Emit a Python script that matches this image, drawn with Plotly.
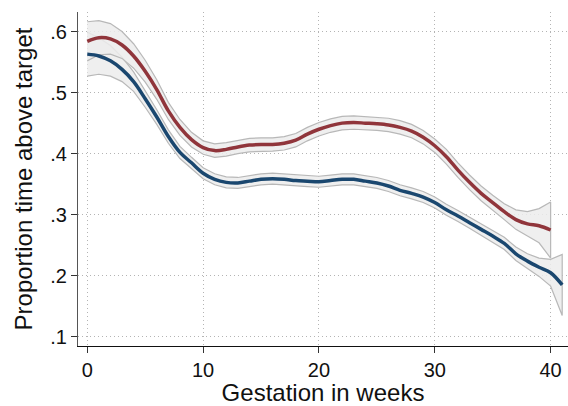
import plotly.graph_objects as go

weeks_red = list(range(0, 41))
red = [0.584, 0.590, 0.588, 0.578, 0.560, 0.535, 0.505, 0.470, 0.443, 0.423,
       0.410, 0.405, 0.407, 0.411, 0.414, 0.415, 0.415, 0.417, 0.422, 0.432,
       0.440, 0.446, 0.450, 0.451, 0.450, 0.449, 0.447, 0.443, 0.437, 0.427,
       0.413, 0.395, 0.373, 0.353, 0.335, 0.320, 0.305, 0.292, 0.285, 0.282,
       0.275]
red_hw = [0.032, 0.028, 0.025, 0.022, 0.020, 0.018, 0.016, 0.014, 0.013, 0.012,
          0.011, 0.011, 0.011, 0.011, 0.011, 0.011, 0.011, 0.011, 0.011, 0.011,
          0.011, 0.011, 0.011, 0.011, 0.011, 0.011, 0.011, 0.011, 0.011, 0.011,
          0.011, 0.012, 0.012, 0.012, 0.012, 0.012, 0.013, 0.016, 0.020, 0.028,
          0.046]

weeks_blue = list(range(0, 42))
blue = [0.563, 0.560, 0.552, 0.538, 0.518, 0.490, 0.460, 0.428, 0.402, 0.385,
        0.368, 0.358, 0.353, 0.352, 0.355, 0.358, 0.359, 0.358, 0.356, 0.355,
        0.354, 0.356, 0.358, 0.358, 0.355, 0.352, 0.347, 0.340, 0.335, 0.329,
        0.320, 0.308, 0.298, 0.287, 0.276, 0.265, 0.253, 0.236, 0.224, 0.214,
        0.205, 0.185]
blue_hw = [0.036, 0.030, 0.025, 0.020, 0.016, 0.014, 0.012, 0.011, 0.010, 0.009,
           0.009, 0.009, 0.009, 0.009, 0.009, 0.009, 0.009, 0.009, 0.009, 0.009,
           0.009, 0.009, 0.009, 0.009, 0.009, 0.009, 0.009, 0.009, 0.009, 0.009,
           0.009, 0.009, 0.009, 0.009, 0.009, 0.010, 0.010, 0.011, 0.012, 0.015,
           0.022, 0.050]

y_ticks = [0.1, 0.2, 0.3, 0.4, 0.5, 0.6]
y_labels = [".1", ".2", ".3", ".4", ".5", ".6"]
x_ticks = [0, 10, 20, 30, 40]

fig = go.Figure()

band_fill = "rgba(236,236,236,0.85)"
band_line = "#b8b8b8"

for xs, ys, hw in [(weeks_blue, blue, blue_hw), (weeks_red, red, red_hw)]:
    upper = [y + h for y, h in zip(ys, hw)]
    lower = [y - h for y, h in zip(ys, hw)]
    fig.add_trace(go.Scatter(x=xs + xs[::-1], y=upper + lower[::-1], mode="lines",
                             fill="toself", fillcolor=band_fill,
                             line=dict(color=band_line, width=1.2),
                             hoverinfo="skip", showlegend=False))

fig.add_trace(go.Scatter(x=weeks_blue, y=blue, mode="lines",
                         line=dict(color="#1a476f", width=3.5, shape="spline"),
                         showlegend=False))
fig.add_trace(go.Scatter(x=weeks_red, y=red, mode="lines",
                         line=dict(color="#90353b", width=3.5, shape="spline"),
                         showlegend=False))

font = dict(family="Liberation Sans, Arial, sans-serif", size=20, color="#111")
grid_dash = "1px,3px"

fig.update_layout(
    width=568, height=406,
    margin=dict(l=78, r=0, t=12, b=60),
    paper_bgcolor="white", plot_bgcolor="white",
    font=font,
    xaxis=dict(range=[-0.8, 41.5], tickvals=x_ticks, ticks="outside", ticklen=6,
               tickcolor="#333", showline=True, linecolor="#111", linewidth=1.3,
               showgrid=True, gridcolor="#b4b4b4", griddash=grid_dash, gridwidth=1,
               zeroline=False, title=dict(text="Gestation in weeks", standoff=2)),
    yaxis=dict(range=[0.085, 0.632], tickvals=y_ticks, ticktext=y_labels,
               ticks="outside", ticklen=6, tickcolor="#333",
               showline=True, linecolor="#555", linewidth=1.3,
               showgrid=True, gridcolor="#b4b4b4", griddash=grid_dash, gridwidth=1,
               zeroline=False, title=dict(text="Proportion time above target", standoff=10)),
)

fig.write_html("out.html")
